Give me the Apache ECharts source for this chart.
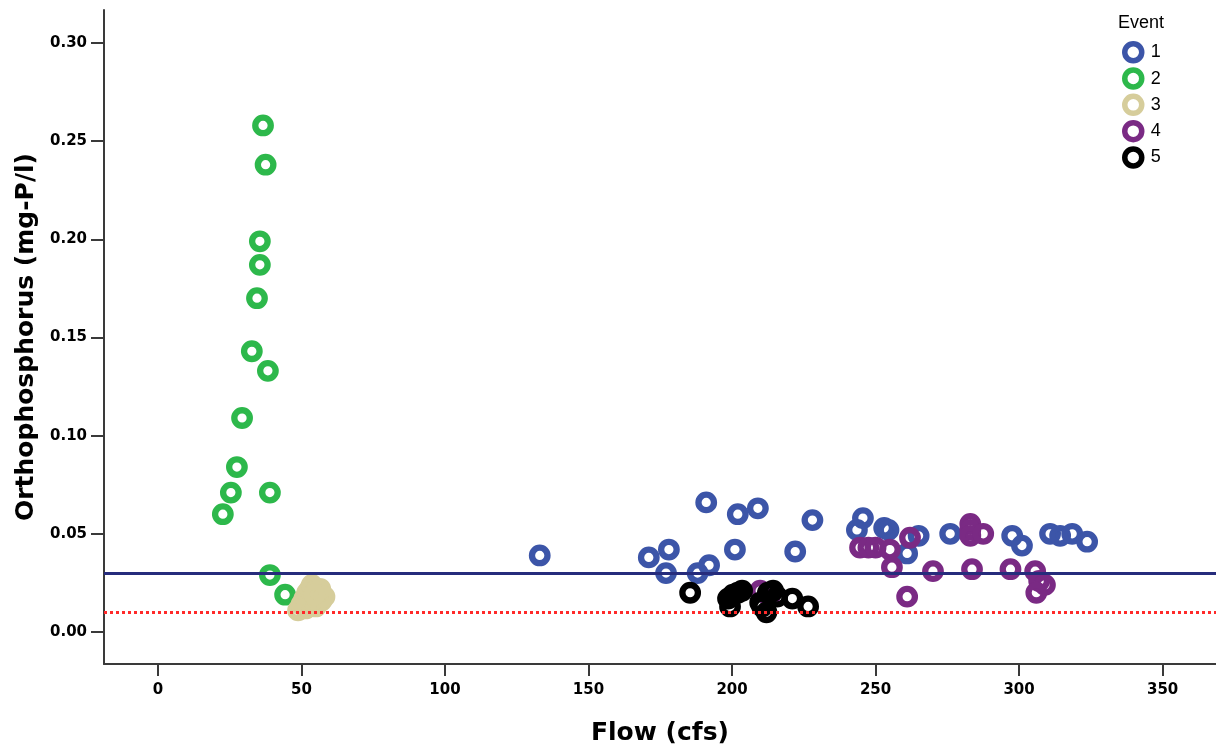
<!DOCTYPE html>
<html>
<head>
<meta charset="utf-8">
<title>Orthophosphorus vs Flow</title>
<script src="https://cdn.jsdelivr.net/npm/echarts@6/dist/echarts.min.js"></script>
<style>
  html, body { margin: 0; padding: 0; background: #ffffff; }
  #chart { width: 1216px; height: 751px; }
</style>
</head>
<body>
<div id="chart"></div>
<script>
// Sample points per storm event: [flow (cfs), orthophosphorus (mg-P/l)]
const event1 = [
  [133, 0.039], [171, 0.038], [177, 0.030], [178, 0.042], [188, 0.030],
  [192, 0.034], [191, 0.066], [201, 0.042], [202, 0.060], [209, 0.063],
  [222, 0.041], [228, 0.057], [243.5, 0.052], [245.6, 0.058], [253, 0.053],
  [254.5, 0.052], [261, 0.040], [265, 0.049], [276, 0.050], [297.6, 0.049],
  [301, 0.044], [310.8, 0.050], [314.3, 0.049], [318.5, 0.050], [323.7, 0.046]
];
const event2 = [
  [22.6, 0.060], [25.4, 0.071], [27.5, 0.084], [29.3, 0.109], [32.7, 0.143],
  [34.5, 0.170], [35.5, 0.187], [35.5, 0.199], [36.6, 0.258], [37.5, 0.238],
  [38.3, 0.133], [39, 0.071], [39, 0.029], [44.3, 0.019]
];
const event3 = [
  [48.8, 0.011], [50, 0.014], [51, 0.017], [52, 0.020], [53, 0.022],
  [53.6, 0.024], [55, 0.021], [56, 0.018], [57, 0.016], [56.5, 0.022],
  [53, 0.015], [55, 0.013], [58, 0.018], [51.5, 0.012], [54.5, 0.019]
];
const event4 = [
  [244.6, 0.043], [247.5, 0.043], [250, 0.043], [255, 0.042], [255.7, 0.033],
  [262, 0.048], [261, 0.018], [270, 0.031], [283, 0.055], [283, 0.052],
  [283, 0.049], [287.5, 0.050], [283.6, 0.032], [297, 0.032], [305.6, 0.031],
  [307, 0.026], [309, 0.024], [306, 0.020], [209.8, 0.021], [213, 0.018]
];
const event5 = [
  [185.4, 0.020], [198.6, 0.017], [199.3, 0.013], [200.3, 0.019], [202, 0.020],
  [203.5, 0.021], [209.8, 0.015], [210.5, 0.013], [212, 0.010], [212.5, 0.020],
  [214.3, 0.021], [215.7, 0.018], [221, 0.017], [226.5, 0.013]
];

const eventNames = ['1', '2', '3', '4', '5'];
const eventColors = ['#3c55a8', '#2db84b', '#d6cd9b', '#7a2a84', '#000000'];
const xTicks = [0, 50, 100, 150, 200, 250, 300, 350];
const yTicks = [0, 0.05, 0.10, 0.15, 0.20, 0.25, 0.30];
const upperLimit = 0.03;  // solid reference level
const lowerLimit = 0.01;  // dotted reference level

const eventData = [event1, event2, event3, event4, event5];
const labelFont = 'DejaVu Sans';
const axisColor = '#3a3a3a';

const series = eventNames.map((name, i) => ({
  name: name,
  type: 'scatter',
  data: eventData[i],
  symbol: 'circle',
  symbolSize: 15.5,
  itemStyle: {
    color: 'rgba(255,255,255,0)',
    borderColor: eventColors[i],
    borderWidth: 6.3,
    opacity: 1
  },
  emphasis: { disabled: true },
  z: 2
}));

// Horizontal reference levels drawn above the points
series.push({
  name: 'limits',
  type: 'scatter',
  data: [],
  silent: true,
  z: 5,
  markLine: {
    silent: true,
    symbol: ['none', 'none'],
    label: { show: false },
    animation: false,
    data: [
      { yAxis: upperLimit, lineStyle: { color: '#262c7c', width: 3, type: 'solid' } },
      { yAxis: lowerLimit, lineStyle: { color: '#ff2a2a', width: 3, type: [3, 3] } }
    ]
  }
});

const chart = echarts.init(document.getElementById('chart'), null, { renderer: 'canvas' });
chart.setOption({
  animation: false,
  backgroundColor: '#ffffff',
  grid: { left: 104, top: 10, width: 1112, height: 654, containLabel: false },
  xAxis: {
    type: 'value',
    min: -18.8,
    max: 368.6,
    name: 'Flow (cfs)',
    nameLocation: 'middle',
    nameGap: 57,
    nameTextStyle: { fontFamily: labelFont, fontWeight: 'bold', fontSize: 25, color: '#000' },
    axisLine: { show: true, onZero: false, lineStyle: { color: axisColor, width: 2 } },
    axisTick: { show: true, customValues: xTicks, length: 12, lineStyle: { color: axisColor, width: 2 } },
    axisLabel: {
      customValues: xTicks,
      margin: 19,
      fontFamily: labelFont, fontWeight: 'bold', fontSize: 15, color: '#000'
    },
    splitLine: { show: false }
  },
  yAxis: {
    type: 'value',
    min: -0.0163,
    max: 0.3168,
    name: 'Orthophosphorus (mg-P/l)',
    nameLocation: 'middle',
    nameGap: 65,
    nameTextStyle: { fontFamily: labelFont, fontWeight: 'bold', fontSize: 25, color: '#000' },
    axisLine: { show: true, onZero: false, lineStyle: { color: axisColor, width: 2 } },
    axisTick: { show: true, customValues: yTicks, length: 13, lineStyle: { color: axisColor, width: 2 } },
    axisLabel: {
      customValues: yTicks,
      margin: 17,
      fontFamily: labelFont, fontWeight: 'bold', fontSize: 15, color: '#000',
      formatter: v => v.toFixed(2)
    },
    splitLine: { show: false }
  },
  legend: {
    data: eventNames,
    orient: 'vertical',
    left: 1117,
    top: 36,
    icon: 'circle',
    itemWidth: 17,
    itemHeight: 17,
    itemGap: 3.8,
    selectedMode: false,
    itemStyle: { borderWidth: 5.5 },
    textStyle: { fontFamily: 'Liberation Sans', fontSize: 18, color: '#000', padding: [0, 0, 0, 4] }
  },
  graphic: [{
    type: 'text',
    left: 1118,
    top: 14,
    style: { text: 'Event', font: '18px "Liberation Sans"', fill: '#000' }
  }],
  series: series
});
</script>
</body>
</html>
